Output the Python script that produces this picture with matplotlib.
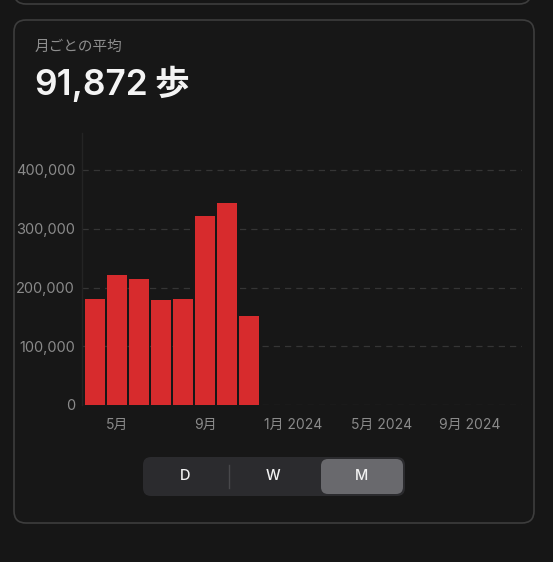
import matplotlib
matplotlib.use("Agg")
import matplotlib.pyplot as plt
from matplotlib.patches import FancyBboxPatch

plt.rcParams['font.family'] = ['Inter', 'Noto Sans CJK JP', 'DejaVu Sans']

# =========================
# データ (2023年4月〜2024年11月, 月ごとの歩数)
# =========================
months = list(range(20))          # 0 = 2023年4月
steps = [181000, 220500, 214000, 178500, 181000, 322000, 344000, 152000]
tick_pos = [1, 5, 9, 13, 17]
tick_labels = ["5月", "9月", "1月 2024", "5月 2024", "9月 2024"]
y_ticks = [0, 100000, 200000, 300000, 400000]
y_labels = ["0", "100,000", "200,000", "300,000", "400,000"]
segments = ["D", "W", "M"]

BG = "#161616"
W, H = 553, 562

fig = plt.figure(figsize=(W / 100, H / 100), dpi=100)
fig.patch.set_facecolor(BG)

# 背景用のピクセル座標の軸
bg = fig.add_axes([0, 0, 1, 1])
bg.set_xlim(0, W)
bg.set_ylim(H, 0)
bg.axis("off")

# 上のカード（一部だけ見える）
bg.add_patch(FancyBboxPatch((14, -40), 517, 44, boxstyle="round,pad=0,rounding_size=12",
                            facecolor=BG, edgecolor="#3d3d3d", linewidth=1.2))
# メインのカード
bg.add_patch(FancyBboxPatch((14, 20), 520, 503, boxstyle="round,pad=0,rounding_size=12",
                            facecolor="#171717", edgecolor="#3d3d3d", linewidth=1.2))

bg.text(35, 47, "月ごとの平均", fontsize=10.5, color="#8e8e8e", ha="left", va="center",
        family=['Noto Sans CJK JP', 'DejaVu Sans'])
bg.text(34, 86, "91,872", fontsize=25.5, color="#f4f4f4", ha="left", va="center",
        fontweight="semibold")
bg.text(154, 84, "歩", fontsize=25, color="#f4f4f4", ha="left", va="center",
        fontweight="bold", family=['Noto Sans CJK JP', 'DejaVu Sans'])

# セグメントコントロール
bg.add_patch(FancyBboxPatch((143, 457), 262, 39, boxstyle="round,pad=0,rounding_size=8",
                            facecolor="#2b2b2e", edgecolor="none"))
bg.add_patch(FancyBboxPatch((321, 459), 82, 35, boxstyle="round,pad=0,rounding_size=7",
                            facecolor="#69696d", edgecolor="none"))
bg.plot([229, 229], [465, 488], color="#48484b", linewidth=1)
for label, cx in zip(segments, [185, 273, 362]):
    bg.text(cx, 476, label, fontsize=10.5, color="#f2f2f2", ha="center", va="center",
            fontweight="medium")

# =========================
# 棒グラフ
# =========================
left, right, top, bottom = 82, 522, 133, 405
ax = fig.add_axes([left / W, 1 - bottom / H, (right - left) / W, (bottom - top) / H])
ax.set_facecolor("none")

ax.bar(months[:len(steps)], steps, width=0.9, color="#d72b2d", zorder=3)

ax.set_xlim(-0.6, 19.4)
ax.set_ylim(0, 400000 * (bottom - top) / (bottom - 170))

ax.set_yticks(y_ticks)
ax.set_yticklabels(y_labels)
ax.set_xticks(tick_pos)
ax.set_xticklabels(tick_labels)
ax.tick_params(axis="both", length=0, colors="#8a8a8a")
ax.tick_params(axis="y", pad=5, labelsize=10.5)
ax.tick_params(axis="x", pad=9, labelsize=10)

ax.grid(axis="y", color="#353535", linestyle=(0, (5, 4)), linewidth=0.9, zorder=0)
ax.grid(axis="x", visible=False)

for side in ["top", "right", "bottom"]:
    ax.spines[side].set_visible(False)
ax.spines["left"].set_color("#242424")
ax.spines["left"].set_linewidth(1)

fig.savefig("out.png", dpi=100, facecolor=BG)
